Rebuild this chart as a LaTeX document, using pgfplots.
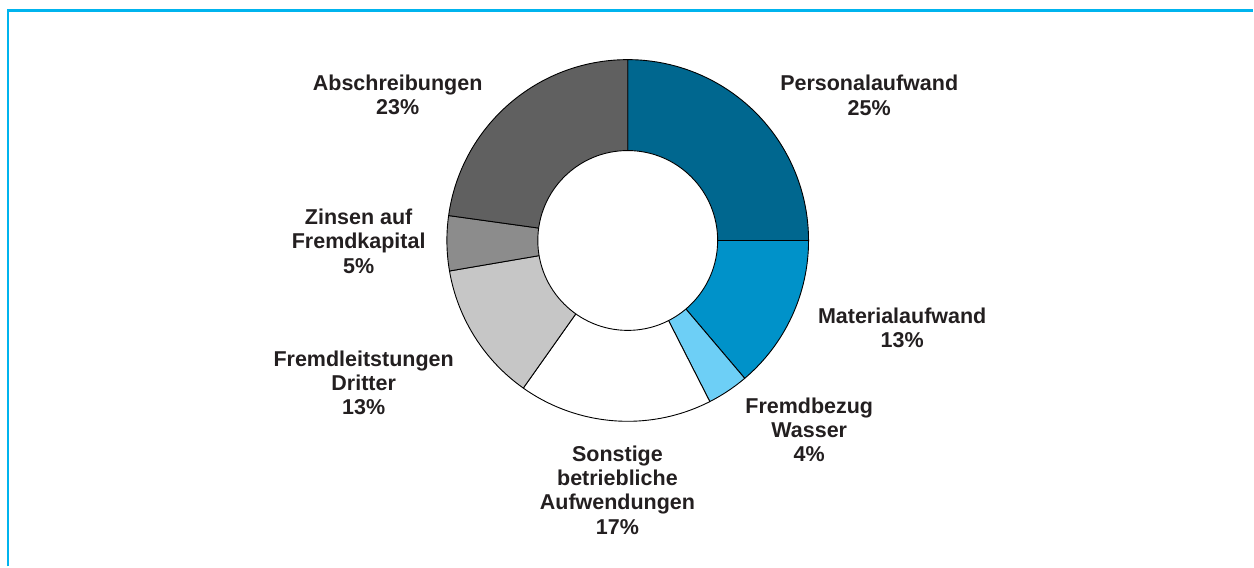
\documentclass[border=0pt]{standalone}
\usepackage{pgfplots}
\usepackage{pgfplotstable}
\pgfplotsset{compat=1.18}
\usepackage{fontspec}
\setmainfont{Liberation Sans}

\definecolor{cA}{HTML}{00678F}
\definecolor{cB}{HTML}{0092C9}
\definecolor{cC}{HTML}{6DCFF6}
\definecolor{cD}{HTML}{FFFFFF}
\definecolor{cE}{HTML}{C6C6C6}
\definecolor{cF}{HTML}{8C8C8C}
\definecolor{cG}{HTML}{606060}
\definecolor{frame}{HTML}{00B4EE}
\definecolor{txt}{HTML}{231F20}

% shares as drawn (labels show the rounded values)
\pgfplotstableread{
pct col
25.0 cA
13.8 cB
3.7 cC
17.3 cD
12.5 cE
4.9 cF
22.8 cG
}\piedata

\begin{document}
\begin{tikzpicture}
\begin{axis}[
  x=0.5pt, y=0.5pt,
  xmin=0, xmax=1254, ymin=0, ymax=567,
  hide axis, clip=false,
  scale only axis,
]
\path (axis cs:0,0) rectangle (axis cs:1254,567);
% frame
\draw[frame, line width=1.15pt] (axis cs:8,0) -- (axis cs:8,556.5) -- (axis cs:1254,556.5);

% donut wedges
\pgfplotstablegetrowsof{\piedata}
\pgfmathtruncatemacro{\N}{\pgfplotsretval-1}
\xdef\cum{0}
\foreach \i in {0,...,\N}{%
  \pgfplotstablegetelem{\i}{pct}\of\piedata \let\p\pgfplotsretval
  \pgfplotstablegetelem{\i}{col}\of\piedata \let\wcol\pgfplotsretval
  \pgfmathsetmacro{\aa}{90-3.6*\cum}
  \pgfmathsetmacro{\bb}{90-3.6*(\cum+\p)}
  \edef\tmp{\noexpand\filldraw[fill=\wcol, draw=black, line width=0.45pt, line join=round] (axis cs:628.3,326.3) -- ++(\aa:90.5pt) arc[start angle=\aa, end angle=\bb, radius=90.5pt] -- cycle;}%
  \tmp
  \pgfmathsetmacro{\cumnew}{\cum+\p}%
  \xdef\cum{\cumnew}%
}
\filldraw[fill=white, draw=black, line width=0.45pt] (axis cs:628.3,326.3) circle[radius=45pt];

% labels
\tikzset{lbl/.style={align=center, text=txt, inner sep=0pt,
  font=\fontsize{10.75}{12.15}\selectfont\bfseries}}
\node[lbl] at (axis cs:870,471.7) {Personalaufwand\\25\%};
\node[lbl] at (axis cs:903,238.7) {Materialaufwand\\13\%};
\node[lbl] at (axis cs:810,137) {Fremdbezug\\Wasser\\4\%};
\node[lbl] at (axis cs:618,76.5) {Sonstige\\betriebliche\\Aufwendungen\\17\%};
\node[lbl] at (axis cs:364,183.7) {Fremdleitstungen\\Dritter\\13\%};
\node[lbl] at (axis cs:359,325.7) {Zinsen auf\\Fremdkapital\\5\%};
\node[lbl] at (axis cs:398,472) {Abschreibungen\\23\%};
\end{axis}
\end{tikzpicture}
\end{document}
